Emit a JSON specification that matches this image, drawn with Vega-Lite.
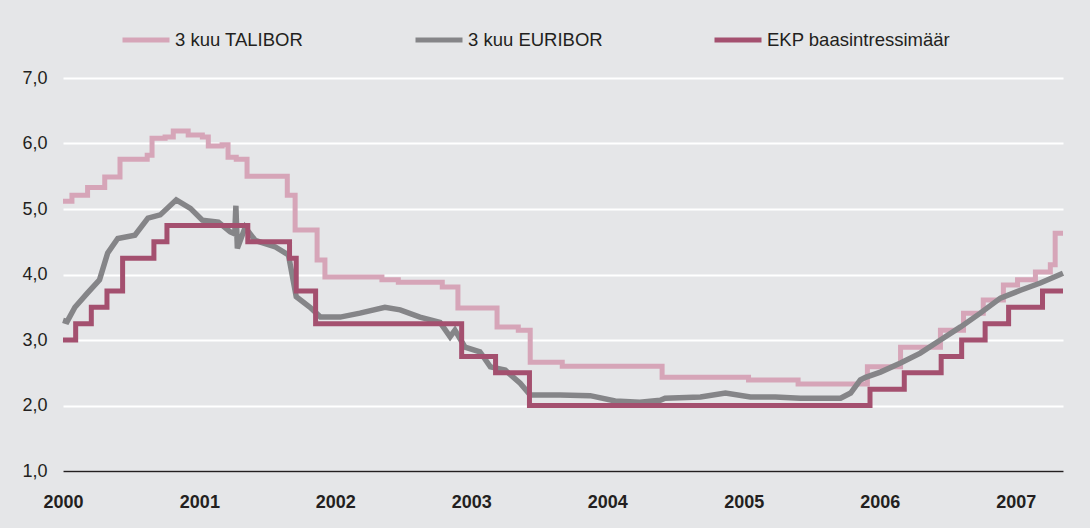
{
  "$schema": "https://vega.github.io/schema/vega-lite/v6.json",
  "width": 1000,
  "height": 393,
  "autosize": {"type": "none"},
  "padding": {"left": 63, "top": 78, "right": 27, "bottom": 57},
  "background": "#e5e6e8",
  "config": {
    "view": {"stroke": null},
    "font": "Liberation Sans"
  },
  "datasets": {
    "rates": [
      {"s": "3 kuu TALIBOR", "d": "2000-01-01", "v": 5.12},
      {"s": "3 kuu TALIBOR", "d": "2000-01-25", "v": 5.21},
      {"s": "3 kuu TALIBOR", "d": "2000-03-07", "v": 5.33},
      {"s": "3 kuu TALIBOR", "d": "2000-04-22", "v": 5.49},
      {"s": "3 kuu TALIBOR", "d": "2000-06-02", "v": 5.76},
      {"s": "3 kuu TALIBOR", "d": "2000-08-14", "v": 5.82},
      {"s": "3 kuu TALIBOR", "d": "2000-08-27", "v": 6.08},
      {"s": "3 kuu TALIBOR", "d": "2000-10-01", "v": 6.10},
      {"s": "3 kuu TALIBOR", "d": "2000-10-23", "v": 6.19},
      {"s": "3 kuu TALIBOR", "d": "2000-12-02", "v": 6.13},
      {"s": "3 kuu TALIBOR", "d": "2001-01-09", "v": 6.10},
      {"s": "3 kuu TALIBOR", "d": "2001-01-25", "v": 5.96},
      {"s": "3 kuu TALIBOR", "d": "2001-03-03", "v": 5.98},
      {"s": "3 kuu TALIBOR", "d": "2001-03-19", "v": 5.79},
      {"s": "3 kuu TALIBOR", "d": "2001-04-10", "v": 5.76},
      {"s": "3 kuu TALIBOR", "d": "2001-05-09", "v": 5.50},
      {"s": "3 kuu TALIBOR", "d": "2001-08-25", "v": 5.21},
      {"s": "3 kuu TALIBOR", "d": "2001-09-15", "v": 4.68},
      {"s": "3 kuu TALIBOR", "d": "2001-11-13", "v": 4.22},
      {"s": "3 kuu TALIBOR", "d": "2001-12-04", "v": 3.96},
      {"s": "3 kuu TALIBOR", "d": "2002-05-06", "v": 3.92},
      {"s": "3 kuu TALIBOR", "d": "2002-06-19", "v": 3.88},
      {"s": "3 kuu TALIBOR", "d": "2002-10-15", "v": 3.81},
      {"s": "3 kuu TALIBOR", "d": "2002-11-26", "v": 3.49},
      {"s": "3 kuu TALIBOR", "d": "2003-03-11", "v": 3.20},
      {"s": "3 kuu TALIBOR", "d": "2003-05-07", "v": 3.15},
      {"s": "3 kuu TALIBOR", "d": "2003-06-08", "v": 2.66},
      {"s": "3 kuu TALIBOR", "d": "2003-09-02", "v": 2.60},
      {"s": "3 kuu TALIBOR", "d": "2004-05-27", "v": 2.43},
      {"s": "3 kuu TALIBOR", "d": "2005-01-14", "v": 2.39},
      {"s": "3 kuu TALIBOR", "d": "2005-05-27", "v": 2.33},
      {"s": "3 kuu TALIBOR", "d": "2005-10-20", "v": 2.33},
      {"s": "3 kuu TALIBOR", "d": "2005-11-29", "v": 2.59},
      {"s": "3 kuu TALIBOR", "d": "2006-02-26", "v": 2.89},
      {"s": "3 kuu TALIBOR", "d": "2006-06-13", "v": 3.15},
      {"s": "3 kuu TALIBOR", "d": "2006-08-14", "v": 3.41},
      {"s": "3 kuu TALIBOR", "d": "2006-10-06", "v": 3.61},
      {"s": "3 kuu TALIBOR", "d": "2006-11-29", "v": 3.84},
      {"s": "3 kuu TALIBOR", "d": "2007-01-06", "v": 3.92},
      {"s": "3 kuu TALIBOR", "d": "2007-02-23", "v": 4.04},
      {"s": "3 kuu TALIBOR", "d": "2007-04-04", "v": 4.15},
      {"s": "3 kuu TALIBOR", "d": "2007-04-17", "v": 4.63},
      {"s": "3 kuu TALIBOR", "d": "2007-05-08", "v": 4.63},

      {"s": "3 kuu EURIBOR", "d": "2000-01-01", "v": 3.30},
      {"s": "3 kuu EURIBOR", "d": "2000-01-12", "v": 3.28},
      {"s": "3 kuu EURIBOR", "d": "2000-02-02", "v": 3.50},
      {"s": "3 kuu EURIBOR", "d": "2000-03-07", "v": 3.72},
      {"s": "3 kuu EURIBOR", "d": "2000-04-08", "v": 3.92},
      {"s": "3 kuu EURIBOR", "d": "2000-04-30", "v": 4.33},
      {"s": "3 kuu EURIBOR", "d": "2000-05-27", "v": 4.55},
      {"s": "3 kuu EURIBOR", "d": "2000-07-12", "v": 4.60},
      {"s": "3 kuu EURIBOR", "d": "2000-08-16", "v": 4.86},
      {"s": "3 kuu EURIBOR", "d": "2000-09-18", "v": 4.91},
      {"s": "3 kuu EURIBOR", "d": "2000-10-31", "v": 5.14},
      {"s": "3 kuu EURIBOR", "d": "2000-12-08", "v": 5.01},
      {"s": "3 kuu EURIBOR", "d": "2001-01-09", "v": 4.83},
      {"s": "3 kuu EURIBOR", "d": "2001-02-21", "v": 4.80},
      {"s": "3 kuu EURIBOR", "d": "2001-03-25", "v": 4.65},
      {"s": "3 kuu EURIBOR", "d": "2001-04-06", "v": 4.62},
      {"s": "3 kuu EURIBOR", "d": "2001-04-09", "v": 5.05},
      {"s": "3 kuu EURIBOR", "d": "2001-04-13", "v": 4.40},
      {"s": "3 kuu EURIBOR", "d": "2001-05-04", "v": 4.72},
      {"s": "3 kuu EURIBOR", "d": "2001-05-31", "v": 4.52},
      {"s": "3 kuu EURIBOR", "d": "2001-07-24", "v": 4.42},
      {"s": "3 kuu EURIBOR", "d": "2001-08-28", "v": 4.30},
      {"s": "3 kuu EURIBOR", "d": "2001-09-18", "v": 3.66},
      {"s": "3 kuu EURIBOR", "d": "2001-10-25", "v": 3.50},
      {"s": "3 kuu EURIBOR", "d": "2001-11-22", "v": 3.35},
      {"s": "3 kuu EURIBOR", "d": "2002-01-14", "v": 3.35},
      {"s": "3 kuu EURIBOR", "d": "2002-03-08", "v": 3.41},
      {"s": "3 kuu EURIBOR", "d": "2002-05-14", "v": 3.50},
      {"s": "3 kuu EURIBOR", "d": "2002-06-24", "v": 3.46},
      {"s": "3 kuu EURIBOR", "d": "2002-08-16", "v": 3.35},
      {"s": "3 kuu EURIBOR", "d": "2002-10-09", "v": 3.27},
      {"s": "3 kuu EURIBOR", "d": "2002-11-05", "v": 3.05},
      {"s": "3 kuu EURIBOR", "d": "2002-11-18", "v": 3.15},
      {"s": "3 kuu EURIBOR", "d": "2002-12-15", "v": 2.89},
      {"s": "3 kuu EURIBOR", "d": "2003-01-24", "v": 2.82},
      {"s": "3 kuu EURIBOR", "d": "2003-02-21", "v": 2.59},
      {"s": "3 kuu EURIBOR", "d": "2003-04-02", "v": 2.54},
      {"s": "3 kuu EURIBOR", "d": "2003-05-12", "v": 2.34},
      {"s": "3 kuu EURIBOR", "d": "2003-06-08", "v": 2.16},
      {"s": "3 kuu EURIBOR", "d": "2003-08-27", "v": 2.16},
      {"s": "3 kuu EURIBOR", "d": "2003-11-16", "v": 2.15},
      {"s": "3 kuu EURIBOR", "d": "2004-01-22", "v": 2.07},
      {"s": "3 kuu EURIBOR", "d": "2004-03-28", "v": 2.05},
      {"s": "3 kuu EURIBOR", "d": "2004-05-22", "v": 2.08},
      {"s": "3 kuu EURIBOR", "d": "2004-06-04", "v": 2.11},
      {"s": "3 kuu EURIBOR", "d": "2004-09-07", "v": 2.13},
      {"s": "3 kuu EURIBOR", "d": "2004-11-13", "v": 2.19},
      {"s": "3 kuu EURIBOR", "d": "2005-01-19", "v": 2.13},
      {"s": "3 kuu EURIBOR", "d": "2005-03-27", "v": 2.13},
      {"s": "3 kuu EURIBOR", "d": "2005-06-02", "v": 2.11},
      {"s": "3 kuu EURIBOR", "d": "2005-09-18", "v": 2.11},
      {"s": "3 kuu EURIBOR", "d": "2005-10-15", "v": 2.19},
      {"s": "3 kuu EURIBOR", "d": "2005-11-10", "v": 2.39},
      {"s": "3 kuu EURIBOR", "d": "2005-11-24", "v": 2.43},
      {"s": "3 kuu EURIBOR", "d": "2006-01-03", "v": 2.51},
      {"s": "3 kuu EURIBOR", "d": "2006-02-26", "v": 2.65},
      {"s": "3 kuu EURIBOR", "d": "2006-04-20", "v": 2.80},
      {"s": "3 kuu EURIBOR", "d": "2006-06-13", "v": 3.00},
      {"s": "3 kuu EURIBOR", "d": "2006-08-06", "v": 3.20},
      {"s": "3 kuu EURIBOR", "d": "2006-09-28", "v": 3.41},
      {"s": "3 kuu EURIBOR", "d": "2006-11-21", "v": 3.64},
      {"s": "3 kuu EURIBOR", "d": "2007-01-14", "v": 3.76},
      {"s": "3 kuu EURIBOR", "d": "2007-03-08", "v": 3.87},
      {"s": "3 kuu EURIBOR", "d": "2007-05-08", "v": 4.02},

      {"s": "EKP baasintressimäär", "d": "2000-01-01", "v": 3.00},
      {"s": "EKP baasintressimäär", "d": "2000-02-04", "v": 3.25},
      {"s": "EKP baasintressimäär", "d": "2000-03-17", "v": 3.50},
      {"s": "EKP baasintressimäär", "d": "2000-04-28", "v": 3.75},
      {"s": "EKP baasintressimäär", "d": "2000-06-09", "v": 4.25},
      {"s": "EKP baasintressimäär", "d": "2000-09-01", "v": 4.50},
      {"s": "EKP baasintressimäär", "d": "2000-10-06", "v": 4.75},
      {"s": "EKP baasintressimäär", "d": "2001-05-11", "v": 4.50},
      {"s": "EKP baasintressimäär", "d": "2001-08-31", "v": 4.25},
      {"s": "EKP baasintressimäär", "d": "2001-09-18", "v": 3.75},
      {"s": "EKP baasintressimäär", "d": "2001-11-09", "v": 3.25},
      {"s": "EKP baasintressimäär", "d": "2002-12-06", "v": 2.75},
      {"s": "EKP baasintressimäär", "d": "2003-03-07", "v": 2.50},
      {"s": "EKP baasintressimäär", "d": "2003-06-06", "v": 2.00},
      {"s": "EKP baasintressimäär", "d": "2005-12-06", "v": 2.25},
      {"s": "EKP baasintressimäär", "d": "2006-03-08", "v": 2.50},
      {"s": "EKP baasintressimäär", "d": "2006-06-15", "v": 2.75},
      {"s": "EKP baasintressimäär", "d": "2006-08-09", "v": 3.00},
      {"s": "EKP baasintressimäär", "d": "2006-10-11", "v": 3.25},
      {"s": "EKP baasintressimäär", "d": "2006-12-13", "v": 3.50},
      {"s": "EKP baasintressimäär", "d": "2007-03-14", "v": 3.75},
      {"s": "EKP baasintressimäär", "d": "2007-05-08", "v": 3.75}
    ]
  },
  "data": {"name": "rates"},
  "encoding": {
    "x": {
      "field": "d",
      "type": "temporal",
      "scale": {
        "type": "utc",
        "domain": [
          {"year": 2000, "month": 1, "date": 1, "utc": true},
          {"year": 2007, "month": 5, "date": 8, "utc": true}
        ]
      },
      "axis": {
        "title": null,
        "format": "%Y",
        "formatType": "utc",
        "values": [
          {"year": 2000, "month": 1, "date": 1, "utc": true},
          {"year": 2001, "month": 1, "date": 1, "utc": true},
          {"year": 2002, "month": 1, "date": 1, "utc": true},
          {"year": 2003, "month": 1, "date": 1, "utc": true},
          {"year": 2004, "month": 1, "date": 1, "utc": true},
          {"year": 2005, "month": 1, "date": 1, "utc": true},
          {"year": 2006, "month": 1, "date": 1, "utc": true},
          {"year": 2007, "month": 1, "date": 1, "utc": true}
        ],
        "grid": false,
        "ticks": false,
        "domain": true,
        "domainColor": "#231f20",
        "domainWidth": 1.5,
        "labelFlush": false,
        "labelAlign": "center",
        "labelFont": "Liberation Sans",
        "labelFontWeight": "bold",
        "labelFontSize": 18,
        "labelColor": "#231f20",
        "labelPadding": 22,
        "labelOverlap": false,
        "zindex": 1
      }
    },
    "y": {
      "field": "v",
      "type": "quantitative",
      "scale": {"domain": [1, 7], "nice": false, "zero": false},
      "axis": {
        "title": null,
        "values": [1, 2, 3, 4, 5, 6, 7],
        "labelExpr": "replace(format(datum.value, '.1f'), '.', ',')",
        "grid": true,
        "gridColor": "#ffffff",
        "gridWidth": 2,
        "ticks": false,
        "domain": false,
        "labelFont": "Liberation Sans",
        "labelFontSize": 18,
        "labelColor": "#231f20",
        "labelPadding": 16
      }
    },
    "color": {
      "field": "s",
      "type": "nominal",
      "scale": {
        "domain": ["3 kuu TALIBOR", "3 kuu EURIBOR", "EKP baasintressimäär"],
        "range": ["#d6a5b8", "#858588", "#a4506f"]
      },
      "legend": {
        "title": null,
        "orient": "none",
        "legendX": 57,
        "legendY": -64,
        "direction": "horizontal",
        "symbolType": "stroke",
        "symbolSize": 2209,
        "symbolStrokeWidth": 5,
        "labelFont": "Liberation Sans",
        "labelFontSize": 18.5,
        "labelColor": "#231f20",
        "labelOffset": 3,
        "labelLimit": 400,
        "columnPadding": 101,
        "padding": 0
      }
    }
  },
  "layer": [
    {
      "transform": [{"filter": "datum.s === '3 kuu TALIBOR'"}],
      "mark": {"type": "line", "interpolate": "step-after", "strokeWidth": 5}
    },
    {
      "transform": [{"filter": "datum.s === '3 kuu EURIBOR'"}],
      "mark": {"type": "line", "interpolate": "linear", "strokeWidth": 5.5}
    },
    {
      "transform": [{"filter": "datum.s === 'EKP baasintressimäär'"}],
      "mark": {"type": "line", "interpolate": "step-after", "strokeWidth": 5}
    }
  ]
}
